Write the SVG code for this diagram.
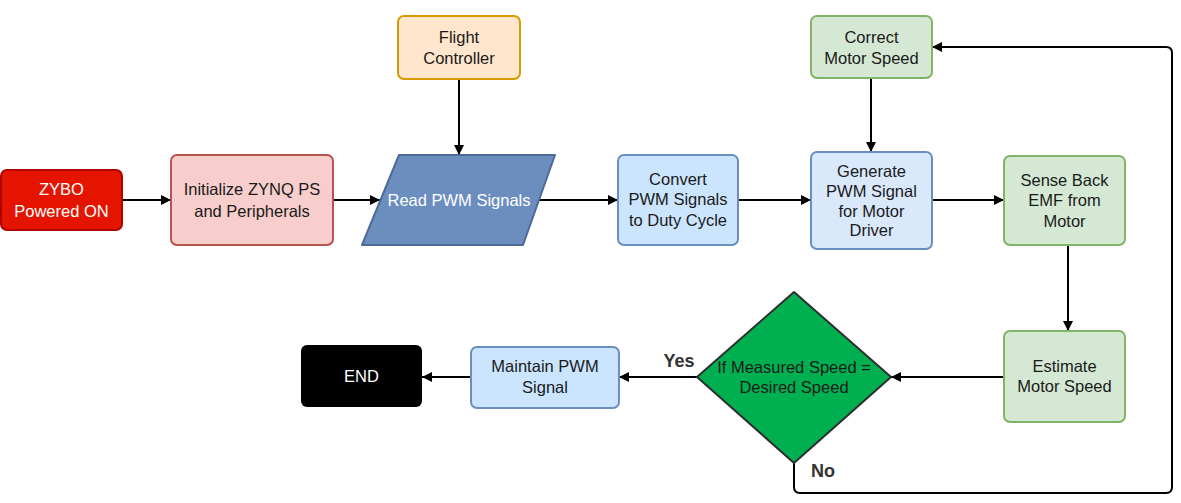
<svg xmlns="http://www.w3.org/2000/svg" width="1181" height="503" viewBox="0 0 1181 503">
<defs>
<marker id="arr" viewBox="0 0 10 10" refX="10" refY="5" markerWidth="10" markerHeight="10" markerUnits="userSpaceOnUse" orient="auto">
<path d="M0,0 L10,5 L0,10 Z" fill="#000"/>
</marker>
<style>
text{font-family:"Liberation Sans",Arial,sans-serif;font-size:16.5px;text-anchor:middle;dominant-baseline:central;fill:#1a1a1a}
.w{fill:#fff}
.b{font-weight:bold;fill:#333;font-size:18px}
.box{stroke-width:2}
.c{fill:none;stroke:#000;stroke-width:2;marker-end:url(#arr)}
</style>
</defs>
<rect width="1181" height="503" fill="#fff"/>
<g id="connectors">
<path class="c" d="M122,200 H171"/>
<path class="c" d="M333,200 H380"/>
<path class="c" d="M459,79 V155"/>
<path class="c" d="M539,200 H618"/>
<path class="c" d="M738,200 H811"/>
<path class="c" d="M871,78 V152"/>
<path class="c" d="M932,200 H1004"/>
<path class="c" d="M1068,245 V331"/>
<path class="c" d="M1004,377 H891"/>
<path class="c" d="M697,377 H619"/>
<path class="c" d="M471,377 H422"/>
<path class="c" d="M794,463 V487 Q794,493 800,493 H1166 Q1172,493 1172,487 V53 Q1172,47 1166,47 H932"/>
<text class="b" x="679" y="361">Yes</text>
<text class="b" x="823" y="471">No</text>
</g>
<g id="zybo">
<rect class="box" x="1" y="170" width="121" height="60" rx="6" fill="#e51400" stroke="#b20000"/>
<text class="w" x="61.5" y="189">ZYBO</text>
<text class="w" x="61.5" y="211">Powered ON</text>
</g>
<g id="init">
<rect class="box" x="171" y="155" width="162" height="90" rx="6" fill="#f8cecc" stroke="#b85450"/>
<text x="252" y="189">Initialize ZYNQ PS</text>
<text x="252" y="211">and Peripherals</text>
</g>
<g id="flight">
<rect class="box" x="398" y="16" width="122" height="63" rx="6" fill="#ffe6cc" stroke="#d79b00"/>
<text x="459" y="37">Flight</text>
<text x="459" y="58">Controller</text>
</g>
<g id="read">
<path class="box" d="M399,155 H555 L523,245 H362 Z" fill="#6c8ebf" stroke="#4d6b96" stroke-linejoin="round"/>
<text class="w" x="459" y="200">Read PWM Signals</text>
</g>
<g id="convert">
<rect class="box" x="618" y="155" width="120" height="90" rx="6" fill="#cce5ff" stroke="#6c8ebf"/>
<text x="678" y="179">Convert</text>
<text x="678" y="199">PWM Signals</text>
<text x="678" y="220">to Duty Cycle</text>
</g>
<g id="generate">
<rect class="box" x="811" y="152" width="121" height="97" rx="6" fill="#dae8fc" stroke="#6c8ebf"/>
<text x="871.5" y="171">Generate</text>
<text x="871.5" y="191">PWM Signal</text>
<text x="871.5" y="211">for Motor</text>
<text x="871.5" y="230">Driver</text>
</g>
<g id="correct">
<rect class="box" x="811" y="16" width="121" height="62" rx="6" fill="#d5e8d4" stroke="#82b366"/>
<text x="871.5" y="37">Correct</text>
<text x="871.5" y="58">Motor Speed</text>
</g>
<g id="sense">
<rect class="box" x="1004" y="156" width="121" height="89" rx="6" fill="#d5e8d4" stroke="#82b366"/>
<text x="1064.5" y="180">Sense Back</text>
<text x="1064.5" y="200">EMF from</text>
<text x="1064.5" y="221">Motor</text>
</g>
<g id="estimate">
<rect class="box" x="1004" y="331" width="121" height="91" rx="6" fill="#d5e8d4" stroke="#82b366"/>
<text x="1064.5" y="366">Estimate</text>
<text x="1064.5" y="386">Motor Speed</text>
</g>
<g id="decision">
<path class="box" d="M794,292 L891,377 L794,463 L697,377 Z" fill="#00b050" stroke="#2d2d2d" stroke-linejoin="round"/>
<text x="794" y="367">If Measured Speed =</text>
<text x="794" y="387">Desired Speed</text>
</g>
<g id="maintain">
<rect class="box" x="471" y="347" width="148" height="61" rx="6" fill="#cce5ff" stroke="#6c8ebf"/>
<text x="545" y="366">Maintain PWM</text>
<text x="545" y="387">Signal</text>
</g>
<g id="end">
<rect x="301" y="345" width="121" height="62" rx="6" fill="#000"/>
<text class="w" x="361.5" y="376">END</text>
</g>
</svg>
